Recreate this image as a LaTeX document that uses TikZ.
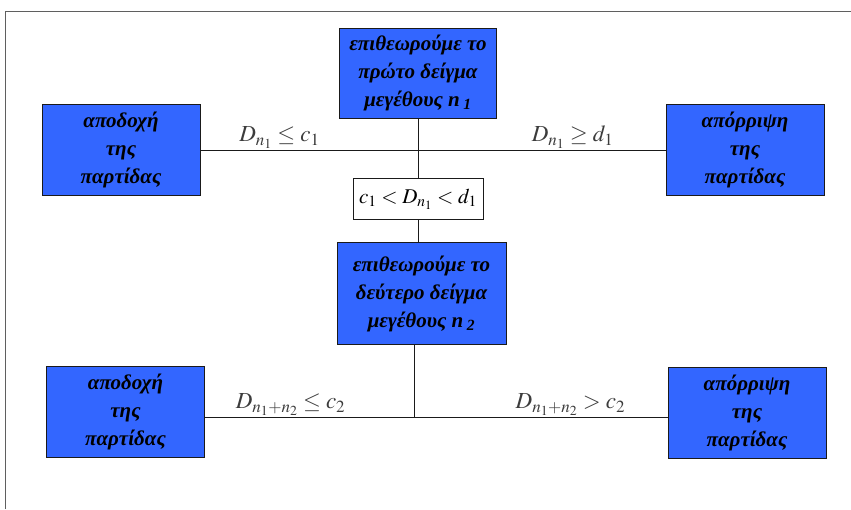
\documentclass[tikz,border=0pt]{standalone}
\usepackage{mathptmx}
\usepackage{fontspec}
\setmainfont{Liberation Serif}
\usetikzlibrary{positioning,calc}
\definecolor{ink}{HTML}{1A1A1A}
\definecolor{lot}{HTML}{3366FF}
\tikzset{
  stage/.style={draw=ink,line width=0.8pt,fill=lot,align=center,inner sep=2pt,
    font=\fontsize{21}{28}\selectfont\bfseries\itshape},
  lotbox/.style={stage,minimum width=158pt,minimum height=91pt},
  cond/.style={font=\fontsize{23}{24}\selectfont,text=ink!85,inner sep=1pt},
  fl/.style={line width=0.7pt,draw=ink}}

\begin{document}
\begin{tikzpicture}[x=1pt,y=-1pt]
\useasboundingbox (0,0) rectangle (851,509);
\draw[ink!70,line width=0.7pt] (5.5,509) -- (5.5,11) -- (851,11);

\node[stage,minimum width=157pt,minimum height=90pt] (s1) at (418,73)
  {επιθεωρούμε το\\πρώτο δείγμα\\μεγέθους n\,\textsubscript{1}};
\node[lotbox] (acc1) at (121,150) {αποδοχή\\της\\παρτίδας};
\node[lotbox] (rej1) at (745,150) {απόρριψη\\της\\παρτίδας};
\node[draw=ink,line width=0.7pt,fill=white,minimum width=130pt,minimum height=41pt,
  inner sep=1pt,font=\fontsize{21}{24}\selectfont,below=60pt of s1] (mid1)
  {$c_1 < D_{n_1} < d_1$};
\node[stage,minimum width=169pt,minimum height=102pt,below=22pt of mid1,xshift=3.5pt] (s2)
  {επιθεωρούμε το\\δεύτερο δείγμα\\μεγέθους n\,\textsubscript{2}};
\node[lotbox] (acc2) at (125.5,411.5) {αποδοχή\\της\\παρτίδας};
\node[lotbox] (rej2) at (747,412.5) {απόρριψη\\της\\παρτίδας};
\coordinate (j2) at (414,417);

\draw[fl] (acc1.east) -- node[cond,above,pos=0.17]{$D_{n_1}\le c_1$}
  node[cond,above,pos=0.80]{$D_{n_1}\ge d_1$} (rej1.west);
\draw[fl] (s1.south) -- (mid1.north);
\draw[fl] (mid1.south) -- (mid1.south |- s2.north);
\draw[fl] (s2.south -| j2) -- (j2);
\draw[fl] (acc2.east |- j2) -- node[cond,above,pos=0.185]{$D_{n_1+n_2}\le c_2$}
  node[cond,above,pos=0.79]{$D_{n_1+n_2} > c_2$} (rej2.west |- j2);
\end{tikzpicture}
\end{document}
